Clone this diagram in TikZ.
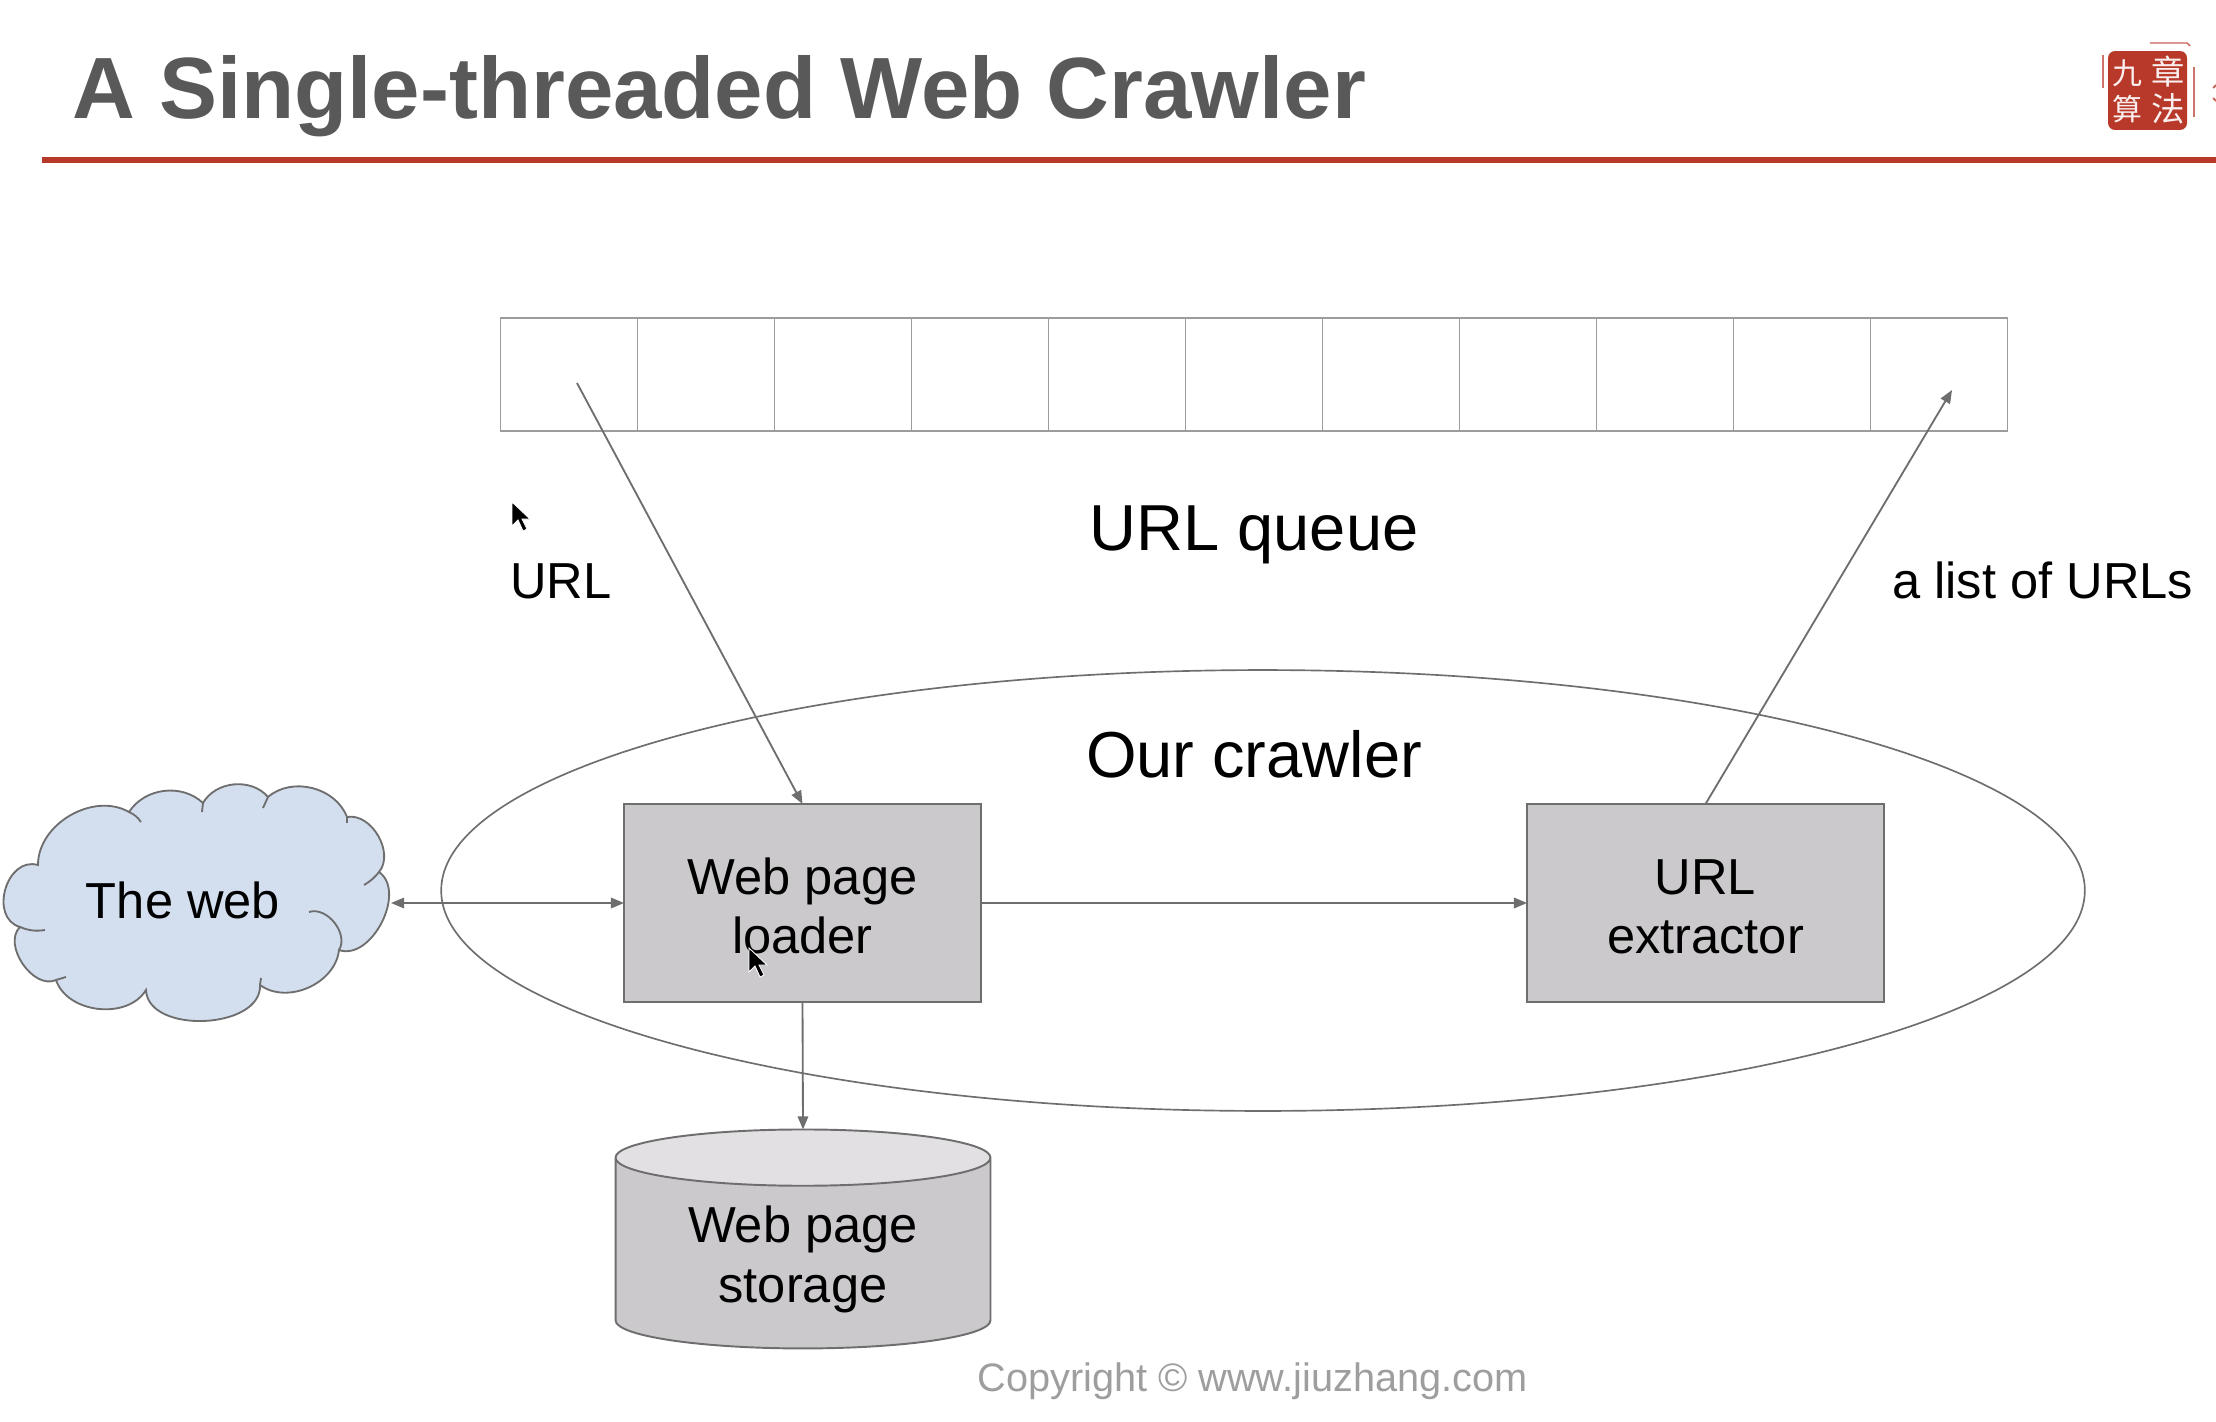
\documentclass[tikz,border=0pt]{standalone}
\usepackage{fontspec}
\setmainfont{Liberation Sans}
\newfontfamily\cjk{Noto Sans CJK SC}
\usetikzlibrary{arrows.meta, shapes.geometric}
\definecolor{lineGray}{HTML}{6E6E6E}
\definecolor{cellGray}{HTML}{9C9C9C}
\definecolor{boxGray}{HTML}{CBC9CC}
\definecolor{topGray}{HTML}{E2E0E3}
\definecolor{cloudBlue}{HTML}{D3DFEF}
\definecolor{titleGray}{HTML}{595959}
\definecolor{stampRed}{HTML}{B8392A}
\newcommand{\toppad}{\rule{0pt}{24.3pt}}
\newcommand{\cylpad}{\rule{0pt}{27.7pt}}
\tikzset{
  conn/.style = {draw=lineGray, line width=1.05pt, -{Triangle[length=7.5pt,width=6pt]}},
  cellbox/.style = {draw=cellGray, line width=0.95pt, minimum width=2.74cm, minimum height=2.26cm, inner sep=0pt, outer sep=0pt},
  procbox/.style = {draw=lineGray, fill=boxGray, line width=1.1pt, minimum width=7.14cm, minimum height=3.96cm, align=center, font=\fontsize{28.8}{34}\selectfont, inner sep=0pt, outer sep=0pt},
  lbl/.style = {font=\fontsize{28.8}{34}\selectfont, inner sep=0pt},
  biglbl/.style = {font=\fontsize{37}{44}\selectfont, inner sep=0pt},
  puff/.style = {bend left=#1},
  puffline/.style = {draw=lineGray, line width=1.05pt},
  cursor/.style = {fill=black, draw=white, line width=0.5pt}
}
\begin{document}
\begin{tikzpicture}[x=0.02cm, y=-0.02cm]
  \useasboundingbox (0,0) rectangle (2216,1422);

  % title bar
  \node[anchor=base west, inner sep=0pt, text=titleGray, font=\fontsize{49.5}{59}\selectfont\bfseries] (title) at (72,119) {A Single-threaded Web Crawler};
  \coordinate (ruleL) at (42,160);
  \coordinate (ruleR) at (2216,160);
  \draw[stampRed, line width=3.2pt] (ruleL) -- (ruleR);

  % stamp
  \node[fill=stampRed, rounded corners=4pt, minimum width=1.58cm, minimum height=1.58cm, inner sep=0pt] (stamp) at (2147.5,90.5) {};
  \node[text=white!92!stampRed, font=\cjk\fontsize{17}{17}\selectfont, inner sep=0pt] (stampA) at (2127,73) {九};
  \node[text=white!92!stampRed, font=\cjk\fontsize{17}{17}\selectfont, inner sep=0pt] (stampB) at (2127,109) {算};
  \node[text=white!92!stampRed, font=\cjk\fontsize{19}{19}\selectfont, inner sep=0pt] (stampC) at (2168,72) {章};
  \node[text=white!92!stampRed, font=\cjk\fontsize{19}{19}\selectfont, inner sep=0pt] (stampD) at (2168,109) {法};
  \draw[stampRed!80!white, line width=0.8pt] (2150,43) -- (2187,43) -- (2190,46);
  \draw[stampRed!70!white, line width=0.8pt] (2103,55) -- (2103,88);
  \draw[stampRed!70!white, line width=0.8pt] (2194,67) -- (2194,117);
  \draw[stampRed!80!white, line width=1pt] (2213,88) -- (2216,85);
  \draw[stampRed!80!white, line width=1pt] (2213,98) -- (2216,101);

  % url queue
  \foreach \i in {0,...,10}
    \node[cellbox] (cell\i) at ({569+137*\i},374.5) {};
  \coordinate (qHead) at (577,383);
  \coordinate (qTail) at (1952,390);
  \node[biglbl] (queuelbl) at (1254,535) {URL queue};
  \node[lbl, anchor=base west] (urllbl) at (510,598) {URL};
  \node[lbl, anchor=base west] (listlbl) at (1892,598) {a list of URLs};

  % crawler
  \node[draw=lineGray, line width=0.95pt, ellipse, minimum width=32.88cm, minimum height=8.82cm, inner sep=0pt] (crawler) at (1263,890.5) {};
  \node[biglbl] (crawlerlbl) at (1254,754) {Our crawler};
  \node[procbox] (loader) at (802.5,903) {\toppad Web page\\loader};
  \node[procbox] (extractor) at (1705.5,903) {\toppad URL\\extractor};

  % storage
  \node[cylinder, shape border rotate=90, aspect=0.245, cylinder uses custom fill,
        cylinder body fill=boxGray, cylinder end fill=topGray, draw=lineGray, line width=1.1pt,
        minimum width=7.5cm, minimum height=4.38cm, inner sep=0pt, outer sep=0pt, align=center,
        font=\fontsize{28.8}{34}\selectfont] (storage) at (803,1253.5) {\cylpad Web page\\storage};

  % the web
  \coordinate (c1) at (38,865);
  \coordinate (c2) at (129,812);
  \coordinate (c3) at (203,803);
  \coordinate (c4) at (268,797);
  \coordinate (c5) at (347,817);
  \coordinate (c6) at (379,872);
  \coordinate (c7) at (339,950);
  \coordinate (c8) at (260,985);
  \coordinate (c9) at (146,990);
  \coordinate (c10) at (56,980);
  \coordinate (c11) at (20,927);
  \draw[fill=cloudBlue, puffline]
    (c1) to[puff=60] (c2) to[puff=50] (c3) to[puff=55] (c4) to[puff=55] (c5)
    to[puff=70] (c6) to[puff=82] (c7) to[puff=60] (c8) to[puff=90] (c9)
    to[puff=65] (c10) to[puff=80] (c11) to[puff=90, looseness=1.3] (c1) -- cycle;
  \draw[puffline] (c2) to[bend left=15] (141,822);
  \draw[puffline] (c3) -- (202,812);
  \draw[puffline] (c4) -- (263,808);
  \draw[puffline] (c5) -- (347,823);
  \draw[puffline] (c6) to[bend left=10] (364,885);
  \draw[puffline] (c7) to[bend right=70] (309,912);
  \draw[puffline] (c8) -- (261,978);
  \draw[puffline] (c10) -- (66,977);
  \draw[puffline] (c11) to[bend right=15] (45,930);
  \node[lbl] (web) at (183,900) {The web};
  \coordinate (webedge) at (391,903);

  % connectors
  \draw[conn] (qHead) -- (loader.north);
  \draw[conn] (extractor.north) -- (qTail);
  \draw[conn, {Triangle[length=7.5pt,width=6pt]}-{Triangle[length=7.5pt,width=6pt]}] (webedge) -- (loader.west);
  \draw[conn] (loader) -- (extractor);
  \draw[conn] (loader.south) -- (storage.north);

  % copyright
  \node[anchor=base west, inner sep=0pt, text=black!38, font=\fontsize{22.6}{27}\selectfont] (copy) at (977,1391) {Copyright © www.jiuzhang.com};

  % mouse pointers
  \draw[cursor] (512,502) -- (512,526) -- (518,520) -- (523,531) -- (527,529) -- (522,519) -- (530,519) -- cycle;
  \draw[cursor] (749,948) -- (749,972) -- (755,966) -- (760,977) -- (764,975) -- (759,965) -- (767,965) -- cycle;
\end{tikzpicture}
\end{document}
